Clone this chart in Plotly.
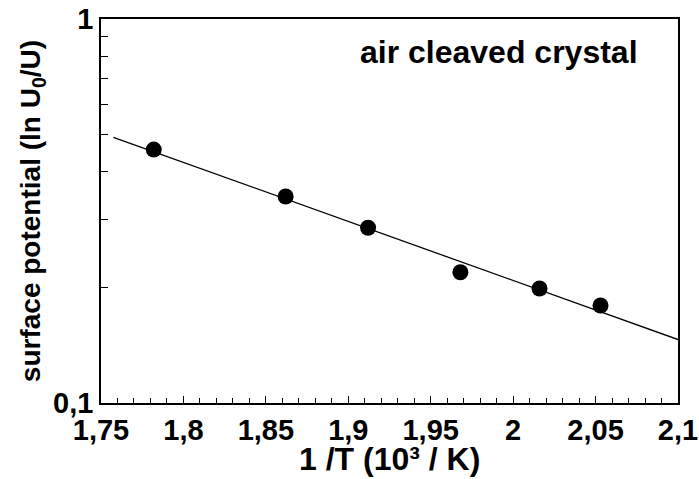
import plotly.graph_objects as go

# data
inv_T = [1.782, 1.862, 1.912, 1.968, 2.016, 2.053]
surface_potential = [0.457, 0.345, 0.286, 0.219, 0.1987, 0.1794]
fit_x = [1.7575, 2.1]
fit_y = [0.492, 0.1463]
x_tickvals = [1.75, 1.8, 1.85, 1.9, 1.95, 2.0, 2.05, 2.1]
x_ticktext = ["1,75", "1,8", "1,85", "1,9", "1,95", "2", "2,05", "2,1"]
y_tickvals = [0.1, 0.2, 0.3, 0.4, 0.5, 0.6, 0.7, 0.8, 0.9, 1.0]
y_ticktext = ["0,1", "", "", "", "", "", "", "", "", "1"]

FONT = "Liberation Sans, Arial, sans-serif"

fig = go.Figure()
fig.add_trace(go.Scatter(x=fit_x, y=fit_y, mode="lines",
                         line=dict(color="black", width=1.3), showlegend=False))
fig.add_trace(go.Scatter(x=inv_T, y=surface_potential, mode="markers",
                         marker=dict(color="black", size=16), showlegend=False))

fig.add_annotation(text="air cleaved crystal", xref="paper", yref="paper",
                   x=0.935, y=0.913, xanchor="right", yanchor="middle",
                   showarrow=False,
                   font=dict(family=FONT, size=32, color="black", weight="bold"))
# x-axis title
fig.add_annotation(text="1 /T (10³ / K)", xref="paper", yref="paper",
                   x=0.5, y=-0.145, xanchor="center", yanchor="middle",
                   showarrow=False,
                   font=dict(family=FONT, size=32, color="black", weight="bold"))

fig.update_layout(
    width=699, height=479,
    margin=dict(l=101, r=21, t=19, b=76),
    paper_bgcolor="white", plot_bgcolor="white",
    separators=",.",
    font=dict(family=FONT, color="black", weight="bold"),
)
fig.update_xaxes(
    range=[1.75, 2.1], automargin=False,
    tickvals=x_tickvals, ticktext=x_ticktext,
    ticklabeloverflow="allow",
    showline=True, linecolor="black", linewidth=1.5, mirror=True,
    ticks="inside", ticklen=7, tickwidth=1, tickcolor="black",
    minor=dict(ticks="inside", dtick=0.01, tick0=1.75, ticklen=5, tickwidth=1, tickcolor="black"),
    showgrid=False, zeroline=False,
    tickfont=dict(family=FONT, size=29, color="black", weight="bold"),
)
fig.update_yaxes(
    type="log", range=[-1, 0], automargin=False,
    tickvals=y_tickvals, ticktext=y_ticktext,
    showline=True, linecolor="black", linewidth=1.5, mirror=True,
    ticks="inside", ticklen=7, tickwidth=1, tickcolor="black",
    showgrid=False, zeroline=False,
    tickfont=dict(family=FONT, size=29, color="black", weight="bold"),
    title=dict(text="surface potential (ln U<sub>0</sub>/U)", standoff=4,
               font=dict(family=FONT, size=28, color="black", weight="bold")),
)

fig.write_html("out.html")
